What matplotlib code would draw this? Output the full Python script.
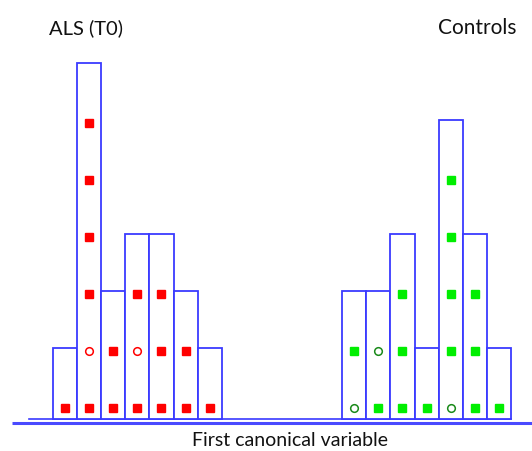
import matplotlib
matplotlib.use("Agg")
import matplotlib.pyplot as plt

# histogram bins (left edge index) and counts per group
als_bins = [0, 1, 2, 3, 4, 5, 6]
als_counts = [1, 6, 2, 3, 3, 2, 1]
ctrl_bins = [12, 13, 14, 15, 16, 17, 18]
ctrl_counts = [2, 2, 3, 1, 5, 3, 1]

# marker type per subject, bottom to top ("f" filled square, "o" open circle)
als_marks = ["f", "foffff", "ff", "fof", "fff", "ff", "f"]
ctrl_marks = ["of", "fo", "fff", "f", "offff", "fff", "f"]

BAR_EDGE = "#3a3aff"
BASE = -0.25      # bar bottom
MOFF = -0.06      # vertical offset of marker rows

fig = plt.figure(figsize=(5.32, 4.52), dpi=100)
ax = fig.add_axes([0, 0, 1, 1])
ax.set_xlim(-53 / 24.1, (532 - 53) / 24.1)
ax.set_ylim(-46 / 57, 406 / 57)
ax.axis("off")


def group(bins, counts, marks, fill_col, open_col):
    heights = [c - BASE for c in counts]
    ax.bar(bins, heights, width=1, bottom=BASE, align="edge",
           facecolor="white", edgecolor=BAR_EDGE, lw=1.3, zorder=2)
    for b, c, m in zip(bins, counts, marks):
        for k in range(c):
            if m[k] == "f":
                ax.plot(b + 0.5, k + MOFF, "s", ms=5.2, color=fill_col,
                        mec=fill_col, zorder=3)
            else:
                ax.plot(b + 0.5, k + MOFF, "o", ms=5.5, mfc="white",
                        mec=open_col, mew=1.1, zorder=3)


group(als_bins, als_counts, als_marks, "#ff0000", "#ff0000")
group(ctrl_bins, ctrl_counts, ctrl_marks, "#00ee00", "#1a8a1a")

# baseline rules
x0 = ax.get_xlim()
ax.plot([(29 - 53) / 24.1, (511 - 53) / 24.1], [BASE, BASE], color=BAR_EDGE,
        lw=1.2, zorder=1)
ax.plot([(12 - 53) / 24.1, x0[1]], [BASE - 0.07, BASE - 0.07], color="#4a4aff",
        lw=2.2, zorder=1, solid_capstyle="butt")

font = "Lato"
fig.text(86 / 532, 1 - 28 / 452, "ALS (T0)", ha="center", va="center",
         fontsize=14.5, family=font, color="#111111")
fig.text(477 / 532, 1 - 28 / 452, "Controls", ha="center", va="center",
         fontsize=15, family=font, color="#111111")
fig.text(290 / 532, 1 - 441 / 452, "First canonical variable", ha="center",
         va="center", fontsize=14, family=font, color="#111111")

fig.savefig("out.png", dpi=100)
